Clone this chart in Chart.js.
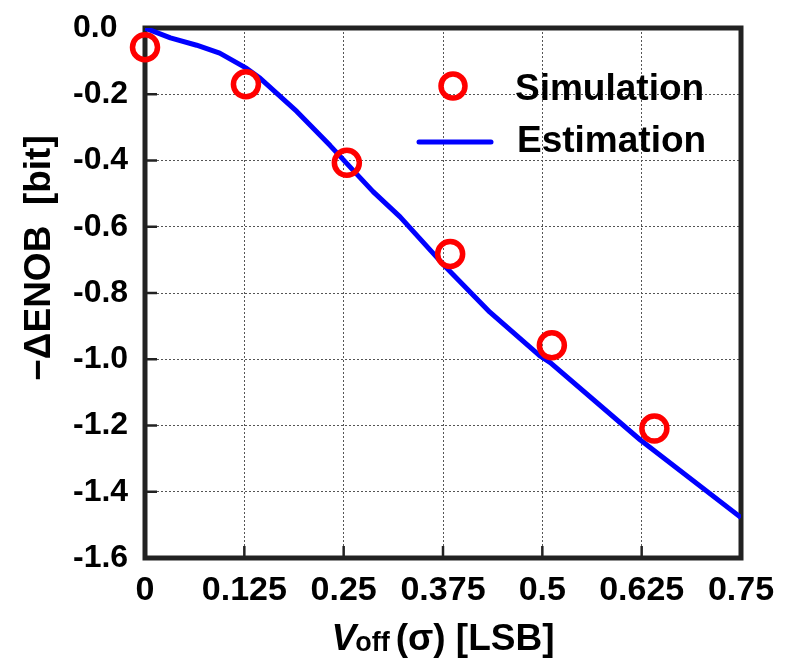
<!DOCTYPE html>
<html>
<head>
<meta charset="utf-8">
<script src="https://cdn.jsdelivr.net/npm/chart.js@4/dist/chart.umd.min.js"></script>
<style>
  html, body { margin: 0; padding: 0; background: #fff; }
  #wrap { width: 793px; height: 660px; position: relative; }
</style>
</head>
<body>
<div id="wrap"><canvas id="enobChart"></canvas></div>
<script>
// simulated points (red circles)
var simX = [0, 0.127, 0.254, 0.384, 0.512, 0.641];
var simY = [-0.058, -0.17, -0.407, -0.682, -0.958, -1.209];
// estimation curve (blue line)
var estX = [0, 0.032, 0.065, 0.094, 0.128, 0.145, 0.191, 0.233, 0.287, 0.321, 0.375, 0.434, 0.497, 0.51, 0.623, 0.75];
var estY = [0, -0.03, -0.052, -0.076, -0.122, -0.152, -0.252, -0.355, -0.494, -0.57, -0.713, -0.858, -0.99, -1.01, -1.243, -1.478];
// tick labels
var xTickLabels = ["0", "0.125", "0.25", "0.375", "0.5", "0.625", "0.75"];
var yTickLabels = ["-1.6", "-1.4", "-1.2", "-1.0", "-0.8", "-0.6", "-0.4", "-0.2", "0.0"];
var seriesNames = ["Simulation", "Estimation"];

var FONT = '"Liberation Sans", Arial, sans-serif';

function toPoints(xs, ys) {
  return xs.map(function(x, i) { return {x: x, y: ys[i]}; });
}

// thick frame + inward ticks, under the data
var framePlugin = {
  id: 'frame',
  beforeDatasetsDraw: function(chart) {
    var ctx = chart.ctx, a = chart.chartArea;
    var xs = chart.scales.x, ys = chart.scales.y;
    ctx.save();
    ctx.strokeStyle = '#222';
    ctx.lineWidth = 2.5;
    ys.ticks.forEach(function(t) {
      var py = ys.getPixelForValue(t.value);
      ctx.beginPath(); ctx.moveTo(a.left, py); ctx.lineTo(a.left + 12, py); ctx.stroke();
    });
    xs.ticks.forEach(function(t) {
      var px = xs.getPixelForValue(t.value);
      ctx.beginPath(); ctx.moveTo(px, a.bottom); ctx.lineTo(px, a.bottom - 12); ctx.stroke();
    });
    ctx.lineWidth = 5;
    ctx.strokeRect(a.left, a.top, a.right - a.left, a.bottom - a.top);
    ctx.restore();
  }
};

// legend, axis titles
var textPlugin = {
  id: 'texts',
  afterDraw: function(chart) {
    var ctx = chart.ctx, a = chart.chartArea;
    ctx.save();
    ctx.fillStyle = '#000';

    // legend
    ctx.strokeStyle = '#ff0000';
    ctx.lineWidth = 5.5;
    ctx.beginPath(); ctx.arc(453, 86, 12, 0, Math.PI * 2); ctx.stroke();
    ctx.strokeStyle = '#0000ff';
    ctx.lineWidth = 5;
    ctx.lineCap = 'round';
    ctx.beginPath(); ctx.moveTo(419, 142); ctx.lineTo(491, 142); ctx.stroke();
    ctx.font = 'bold 37px ' + FONT;
    ctx.textAlign = 'left';
    ctx.textBaseline = 'alphabetic';
    ctx.fillText(seriesNames[0], 515, 100);
    ctx.fillText(seriesNames[1], 517, 152);

    // x title: V_off (σ) [LSB]
    var cx = (a.left + a.right) / 2, base = 650;
    ctx.font = 'italic bold 37px ' + FONT;
    var wV = ctx.measureText('V').width;
    ctx.font = 'bold 27px ' + FONT;
    var wSub = ctx.measureText('off').width;
    ctx.font = 'bold 37px ' + FONT;
    var rest = '(\u03c3) [LSB]';
    var wRest = ctx.measureText(rest).width;
    var x0 = cx - (wV + wSub + 5 + wRest) / 2;
    ctx.font = 'italic bold 37px ' + FONT;
    ctx.fillText('V', x0, base);
    ctx.font = 'bold 27px ' + FONT;
    ctx.fillText('off', x0 + wV - 1, base + 1);
    ctx.font = 'bold 37px ' + FONT;
    ctx.fillText(rest, x0 + wV + wSub + 5, base);

    // y title
    ctx.translate(50, 258);
    ctx.rotate(-Math.PI / 2);
    ctx.textAlign = 'center';
    ctx.font = 'bold 37px ' + FONT;
    ctx.fillText('\u2212\u0394ENOB  [bit]', 0, 0);
    ctx.restore();
  }
};

var ctx = document.getElementById('enobChart');
var enobChart = new Chart(ctx, {
  type: 'scatter',
  data: {
    datasets: [{
      label: seriesNames[0],
      data: toPoints(simX, simY),
      pointRadius: 12.5,
      pointHoverRadius: 12.5,
      pointBorderWidth: 5.5,
      pointBorderColor: '#ff0000',
      pointBackgroundColor: 'rgba(0,0,0,0)',
      showLine: false,
      clip: false,
      order: 0
    }, {
      label: seriesNames[1],
      data: toPoints(estX, estY),
      showLine: true,
      borderColor: '#0000ff',
      borderWidth: 5,
      borderJoinStyle: 'round',
      pointRadius: 0,
      tension: 0,
      order: 1
    }]
  },
  options: {
    responsive: true,
    maintainAspectRatio: false,
    devicePixelRatio: 1,
    animation: false,
    events: [],
    layout: { padding: { left: 73, top: 28, right: 52, bottom: 0 } },
    plugins: { legend: { display: false }, tooltip: { enabled: false } },
    scales: {
      x: {
        type: 'linear',
        min: 0,
        max: 0.75,
        afterFit: function(s) { s.height = 102; },
        grid: { color: '#555', lineWidth: 1, drawTicks: false },
        border: { display: false, dash: [2, 2] },
        ticks: {
          stepSize: 0.125,
          padding: 12,
          color: '#000',
          font: { family: FONT, size: 34, weight: 'bold' },
          maxRotation: 0,
          callback: function(v, i) { return xTickLabels[i]; }
        }
      },
      y: {
        type: 'linear',
        min: -1.6,
        max: 0,
        afterFit: function(s) { s.width = 72; },
        grid: { color: '#555', lineWidth: 1, drawTicks: false },
        border: { display: false, dash: [2, 2] },
        ticks: {
          stepSize: 0.2,
          crossAlign: 'far',
          color: '#000',
          font: { family: FONT, size: 32, weight: 'bold' },
          callback: function(v, i) { return yTickLabels[i]; }
        }
      }
    }
  },
  plugins: [framePlugin, textPlugin]
});
</script>
</body>
</html>
